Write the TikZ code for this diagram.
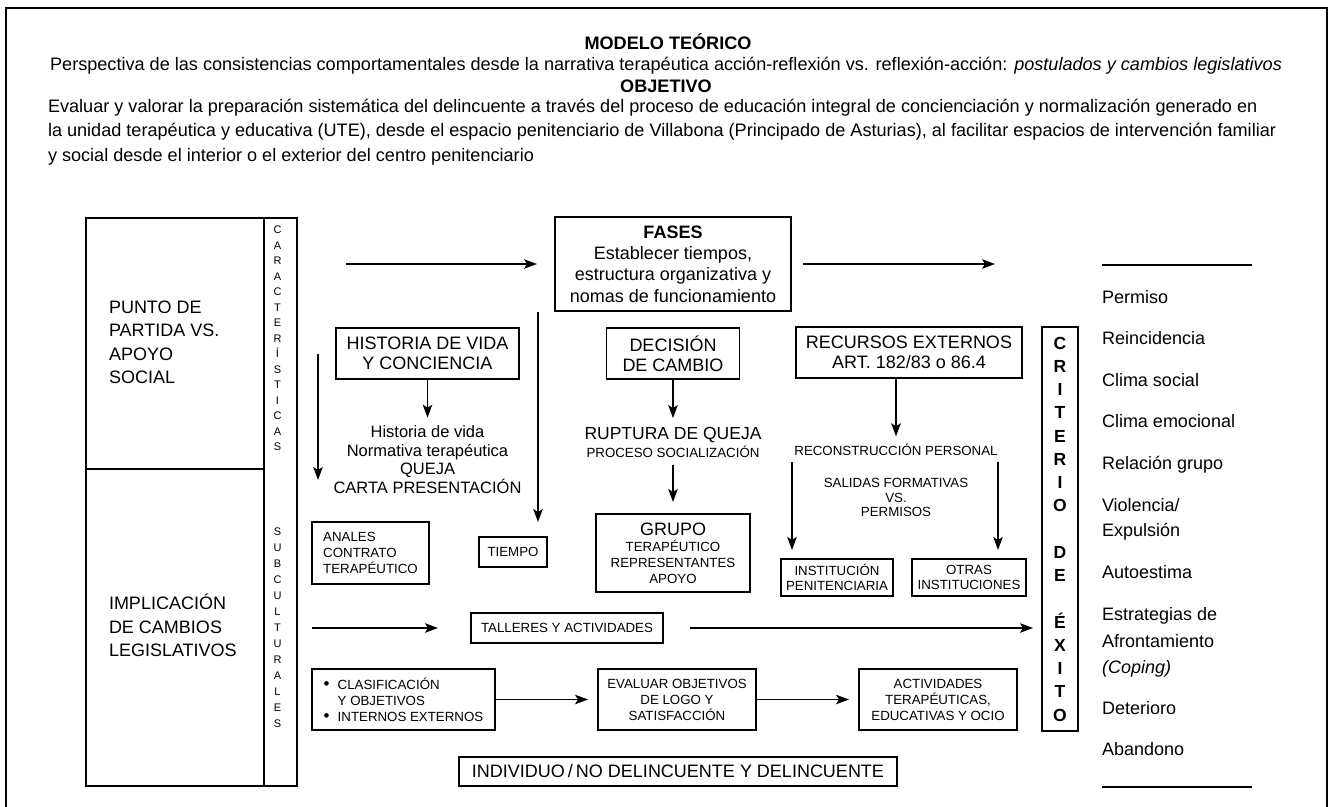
\documentclass[tikz,border=0pt]{standalone}
\usepackage{fontspec}
\setmainfont{Liberation Sans}
\usetikzlibrary{arrows.meta}
\newcommand\FS[2]{\fontsize{#1}{#2}\selectfont}
\begin{document}
\begin{tikzpicture}[x=1pt,y=-1pt,
  every node/.style={inner sep=0pt, outer sep=0pt},
  box/.style={draw, line width=1.3pt, align=center, inner sep=0pt},
  big/.style={font=\FS{18}{20}},
  sml/.style={font=\FS{13.3}{16}},
  ttl/.style={font=\FS{18.1}{21}},
  ttlb/.style={font=\FS{18.1}{21}\bfseries},
  arr/.style={line width=1.3pt, -{Stealth[length=13pt,width=9.5pt,inset=3pt]}},
  rule/.style={line width=1.3pt},
  item/.style={anchor=base west, font=\FS{18}{20}}
]
\useasboundingbox (0,0) rectangle (1332,806);
\fill[white] (0,0) rectangle (1332,806);
% outer frame
\draw[rule] (6,812) -- (6,8) -- (1327,8) -- (1327,812);

% title block
\node[ttlb, anchor=base] (t1) at (668,49.5) {MODELO TEÓRICO};
\node[ttl, anchor=base] (t2) at (666,70) {Perspectiva de las consistencias comportamentales desde la narrativa terapéutica acción-reflexión vs. reflexión-acción: \textit{postulados y cambios legislativos}};
\node[ttlb, anchor=base] (t3) at (666,92) {OBJETIVO};
\node[ttl, anchor=base west] (t4) at (48,112) {Evaluar y valorar la preparación sistemática del delincuente a través del proceso de educación integral de concienciación y normalización generado en};
\node[ttl, anchor=base west] (t5) at (48,136) {la unidad terapéutica y educativa (UTE), desde el espacio penitenciario de Villabona (Principado de Asturias), al facilitar espacios de intervención familiar};
\node[ttl, anchor=base west] (t6) at (48,161) {y social desde el interior o el exterior del centro penitenciario};

% left boxes
\node[draw, line width=1.3pt, minimum width=178pt, minimum height=251pt] (ptop) at (175,343.5) {};
\node[draw, line width=1.3pt, minimum width=178pt, minimum height=317pt] (pbot) at (175,627.5) {};
\node[draw, line width=1.3pt, minimum width=33pt, minimum height=568pt] (col) at (280.5,502) {};
\node[align=left, font=\FS{18}{23.5}, anchor=north west] (ptxt) at (109,300.5) {PUNTO DE\\PARTIDA VS.\\APOYO\\SOCIAL};
\node[align=left, font=\FS{18}{23.6}, anchor=north west] (itxt) at (109,594) {IMPLICACIÓN\\DE CAMBIOS\\LEGISLATIVOS};
\node[align=center, font=\FS{11}{15.5}] (carac) at (277.5,338.5) {C\\A\\R\\A\\C\\T\\E\\R\\Í\\S\\T\\I\\C\\A\\S};
\node[align=center, font=\FS{11}{16}] (subc) at (277.5,627.5) {S\\U\\B\\C\\U\\L\\T\\U\\R\\A\\L\\E\\S};

% central boxes
\node[box, font=\FS{18}{21.3}, minimum width=236pt, minimum height=94pt] (fases) at (673,264) {\textbf{FASES}\\Establecer tiempos,\\estructura organizativa y\\nomas de funcionamiento};
\node[box, big, minimum width=183pt, minimum height=51pt] (hist) at (427.5,353.5) {HISTORIA DE VIDA\\Y CONCIENCIA};
\node[align=center, font=\FS{16.5}{18.5}] (htxt) at (427.5,459.5) {Historia de vida\\Normativa terapéutica\\QUEJA\\CARTA PRESENTACIÓN};
\node[box, big, minimum width=133pt, minimum height=51pt] (dec) at (673,353.5) {DECISIÓN\\DE CAMBIO};
\node[font=\FS{17.5}{20}, anchor=base] (rupt) at (673,439.3) {RUPTURA DE QUEJA};
\node[sml, anchor=base] (proc) at (673,457.8) {PROCESO SOCIALIZACIÓN};
\node[box, sml, minimum width=154pt, minimum height=78pt] (grupo) at (673,553) {{\FS{18}{16}GRUPO}\\TERAPÉUTICO\\REPRESENTANTES\\APOYO};
\node[box, big, minimum width=226pt, minimum height=51pt] (rec) at (909,352.5) {RECURSOS EXTERNOS\\ART. 182/83 o 86.4};
\node[sml, anchor=base] (recon) at (896,455.8) {RECONSTRUCCIÓN PERSONAL};
\node[align=center, font=\FS{13.3}{14.5}] (sal) at (896,497.5) {SALIDAS FORMATIVAS\\VS.\\PERMISOS};
\node[box, font=\FS{13.3}{15.5}, minimum width=112pt, minimum height=37pt] (inst) at (837,577.5) {INSTITUCIÓN\\PENITENCIARIA};
\node[box, font=\FS{13.3}{15.5}, minimum width=114pt, minimum height=37pt] (otras) at (969,577.5) {OTRAS\\INSTITUCIONES};
\node[box, align=left, sml, minimum width=117pt, minimum height=62pt] (anales) at (370.5,553) {ANALES\\CONTRATO\\TERAPÉUTICO};
\node[box, sml, minimum width=68pt, minimum height=30pt] (tiempo) at (513,552) {TIEMPO};
\node[box, sml, minimum width=192pt, minimum height=30pt] (tall) at (567,628) {TALLERES Y ACTIVIDADES};
\node[box, align=left, sml, minimum width=183pt, minimum height=61pt] (clas) at (403.5,699.5) {\makebox[14pt][l]{\FS{17}{16}\textbullet}CLASIFICACIÓN\\\hspace*{14pt}Y OBJETIVOS\\\makebox[14pt][l]{\FS{17}{16}\textbullet}INTERNOS EXTERNOS};
\node[box, sml, minimum width=158pt, minimum height=61pt] (eval) at (677,699.5) {EVALUAR OBJETIVOS\\DE LOGO Y\\SATISFACCIÓN};
\node[box, sml, minimum width=158pt, minimum height=61pt] (act) at (938,699.5) {ACTIVIDADES\\TERAPÉUTICAS,\\EDUCATIVAS Y OCIO};
\node[box, big, minimum width=438pt, minimum height=29pt] (indiv) at (678,771.5) {INDIVIDUO\,/\,NO DELINCUENTE Y DELINCUENTE};
\node[box, font=\FS{17.5}{23.25}\bfseries, minimum width=36pt, minimum height=404pt] (crit) at (1060,529) {C\\R\\I\\T\\E\\R\\I\\O\\[23.25pt]D\\E\\[23.25pt]É\\X\\I\\T\\O};

% right list
\draw[rule] (1102,265) -- (1252,265);
\draw[rule] (1102,787) -- (1252,787);
\node[item] (i1) at (1102,303) {Permiso};
\node[item] (i2) at (1102,344) {Reincidencia};
\node[item] (i3) at (1102,386) {Clima social};
\node[item] (i4) at (1102,427) {Clima emocional};
\node[item] (i5) at (1102,469) {Relación grupo};
\node[item] (i6) at (1102,511) {Violencia/};
\node[item] (i6b) at (1102,536) {Expulsión};
\node[item] (i7) at (1102,578) {Autoestima};
\node[item] (i8) at (1102,620) {Estrategias de};
\node[item] (i8b) at (1102,647) {Afrontamiento};
\node[item] (i8c) at (1102,673) {\textit{(Coping)}};
\node[item] (i9) at (1102,714) {Deterioro};
\node[item] (i10) at (1102,755) {Abandono};

% connectors
\coordinate (r1a) at (346,264);
\draw[arr, shorten >=18pt] (r1a) -- (r1a -| fases.west);
\coordinate (r1b) at (995,264);
\draw[arr, shorten <=12pt] (fases.east) -- (r1b);
\draw[arr, shorten >=8pt] (hist) -- (htxt);
\coordinate (la) at (318,354);
\coordinate (lb) at (318,480);
\draw[arr] (la) -- (lb);
\coordinate (vt) at (538,312);
\draw[arr, shorten >=15pt] (vt) -- (vt |- tiempo.north);
\draw[arr, shorten >=9pt] (dec) -- (rupt);
\draw[arr, shorten <=7pt, shorten >=12pt] (proc) -- (grupo);
\draw[arr, shorten >=8pt] (rec.south -| recon) -- (recon);
\coordinate (sa) at (792,462);
\draw[arr, shorten >=9pt] (sa) -- (sa |- inst.north);
\coordinate (sb) at (998,462);
\draw[arr, shorten >=9pt] (sb) -- (sb |- otras.north);
\coordinate (ta) at (312,628);
\draw[arr, shorten >=33pt] (ta) -- (ta -| tall.west);
\draw[arr, shorten <=27pt, shorten >=9pt] (tall.east) -- (tall.east -| crit.west);
\draw[arr, shorten >=10pt] (clas) -- (eval);
\draw[arr, shorten >=10pt] (eval) -- (act);
\end{tikzpicture}
\end{document}
